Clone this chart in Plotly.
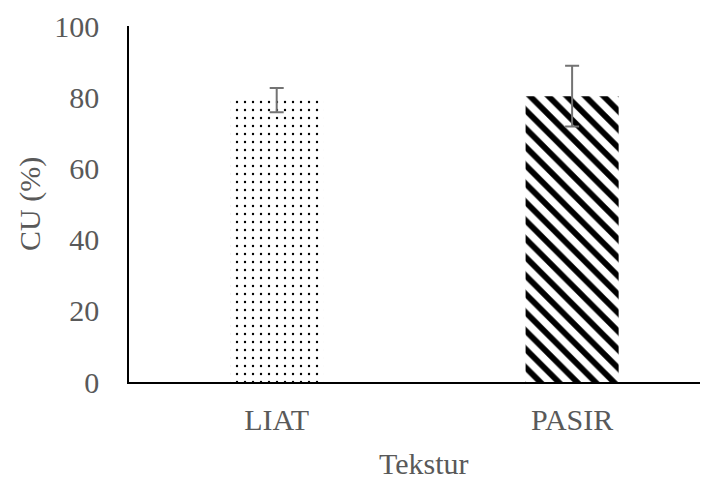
import plotly.graph_objects as go

categories = ["LIAT", "PASIR"]
values = [79.2, 80.3]
errors = [3.4, 8.5]
shapes = [".", "\\"]
y_ticks = [0, 20, 40, 60, 80, 100]
x_title = "Tekstur"
y_title = "CU (%)"

fig = go.Figure()
for c, v, e, s in zip(categories, values, errors, shapes):
    fig.add_trace(go.Bar(
        x=[c], y=[v],
        error_y=dict(type="data", array=[e], color="#737373", thickness=2, width=7),
        marker=dict(color="white", line=dict(width=0),
                    pattern=dict(shape=s, fgcolor="black", bgcolor="white",
                                 size=8 if s == "." else 13,
                                 solidity=0.07 if s == "." else 0.45,
                                 fillmode="replace")),
        width=0.315, showlegend=False,
    ))

font = dict(family="Liberation Serif, Times New Roman, serif", size=30, color="#595959")
fig.update_layout(
    width=700, height=471,
    margin=dict(l=121, r=0, t=18, b=97),
    plot_bgcolor="white", paper_bgcolor="white",
    font=font,
    barmode="overlay",
    xaxis=dict(showline=True, linecolor="black", linewidth=1.5, ticks="",
               range=[-0.5, 1.46], ticklabelstandoff=10, tickfont=font,
               automargin=False),
    yaxis=dict(showline=True, linecolor="black", linewidth=1.5, ticks="",
               range=[0, 100], tickvals=y_ticks, showgrid=False, zeroline=False,
               ticklabelstandoff=22, tickfont=font, automargin=False),
    annotations=[
        dict(text=x_title, xref="paper", yref="paper", x=0.5, y=0,
             xanchor="center", yanchor="middle",
             yshift=-81, xshift=5, showarrow=False, font=font),
        dict(text=y_title, xref="paper", yref="paper", x=0, y=0.5,
             xanchor="center", yanchor="middle",
             xshift=-99, textangle=-90, showarrow=False, font=font),
    ],
)
fig.write_html("out.html")
